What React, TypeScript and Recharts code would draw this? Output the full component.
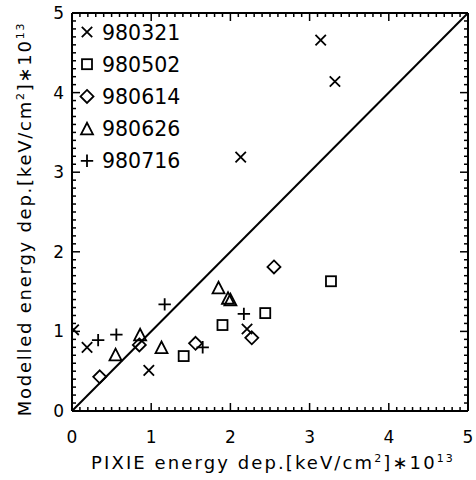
import React from 'react';
import { ScatterChart, Scatter, XAxis, YAxis, ReferenceLine, Legend } from 'recharts';

const FONT = '"DejaVu Sans", Verdana, sans-serif';

const AXIS_DOMAIN: [number, number] = [0, 5];
const ALL_TICKS = Array.from({ length: 51 }, (_, i) => i / 10);

const SERIES_NAMES = ['980321', '980502', '980614', '980626', '980716'];
const SERIES_SYMBOLS = ['cross', 'square', 'diamond', 'triangle', 'plus'];

const DATA_980321: [number, number][] = [
  [0.02, 1.02], [0.19, 0.8], [0.97, 0.51], [2.21, 1.03], [2.13, 3.19], [3.14, 4.66], [3.32, 4.14],
];
const DATA_980502: [number, number][] = [
  [1.41, 0.69], [1.9, 1.08], [2.44, 1.23], [3.27, 1.63],
];
const DATA_980614: [number, number][] = [
  [0.35, 0.43], [0.85, 0.83], [1.56, 0.85], [2.27, 0.92], [2.55, 1.81],
];
const DATA_980626: [number, number][] = [
  [0.55, 0.71], [0.86, 0.96], [1.13, 0.8], [1.85, 1.55], [1.97, 1.42], [2.0, 1.4],
];
const DATA_980716: [number, number][] = [
  [0.33, 0.89], [0.56, 0.96], [1.17, 1.34], [1.65, 0.8], [2.17, 1.22],
];
const SERIES_DATA = [DATA_980321, DATA_980502, DATA_980614, DATA_980626, DATA_980716];

const DIAGONAL = [{ x: 0, y: 0 }, { x: 5, y: 5 }];

const SW = 1.8;

function Marker({ kind, cx, cy }: { kind: string; cx: number; cy: number }) {
  const common = { stroke: '#000', strokeWidth: SW, fill: 'none' };
  if (cx == null || cy == null) return null;
  switch (kind) {
    case 'cross': {
      const h = 5.2;
      return <path d={`M${cx - h},${cy - h}L${cx + h},${cy + h}M${cx - h},${cy + h}L${cx + h},${cy - h}`} {...common} />;
    }
    case 'square': {
      const s = 5;
      return <rect x={cx - s} y={cy - s} width={2 * s} height={2 * s} {...common} />;
    }
    case 'diamond': {
      const h = 6.5;
      return <path d={`M${cx},${cy - h}L${cx + h},${cy}L${cx},${cy + h}L${cx - h},${cy}Z`} {...common} />;
    }
    case 'triangle': {
      const w = 6, h = 5.8;
      return <path d={`M${cx - w},${cy + h}L${cx},${cy - h}L${cx + w},${cy + h}Z`} {...common} />;
    }
    default: {
      const h = 6.2;
      return <path d={`M${cx - h},${cy}L${cx + h},${cy}M${cx},${cy - h}L${cx},${cy + h}`} {...common} />;
    }
  }
}

function LegendBox() {
  return (
    <svg width={150} height={170} style={{ display: 'block' }}>
      {SERIES_NAMES.map((name, i) => {
        const cy = 18 + 32.2 * i;
        return (
          <g key={name}>
            <Marker kind={SERIES_SYMBOLS[i]} cx={11} cy={cy} />
            <text x={26} y={cy + 7.6} fontFamily={FONT} fontSize={20.5} fill="#000">{name}</text>
          </g>
        );
      })}
    </svg>
  );
}

const TITLE_SIZE = 18;

function XTitle(props: any) {
  const vb = props.viewBox || {};
  const x0 = vb.x ?? 72;
  const w = vb.width ?? 396;
  const y0 = vb.y ?? 411;
  const cx = x0 + w / 2 + 3;
  return (
    <text x={cx} y={y0 + 58} textAnchor="middle" fontFamily={FONT} fontSize={TITLE_SIZE} letterSpacing={2.1} fill="#000">
      PIXIE energy dep.[keV/cm<tspan dy={-7} fontSize={11}>2</tspan><tspan dy={7}>]∗10</tspan><tspan dy={-7} fontSize={11}>13</tspan>
    </text>
  );
}

function YTitle(props: any) {
  const vb = props.viewBox || {};
  const y0 = vb.y ?? 13;
  const h = vb.height ?? 398;
  const cy = y0 + h / 2 + 7;
  const bx = 31;
  return (
    <text x={bx} y={cy} transform={`rotate(-90 ${bx} ${cy})`} textAnchor="middle" fontFamily={FONT} fontSize={TITLE_SIZE} letterSpacing={1.75} fill="#000">
      Modelled energy dep.[keV/cm<tspan dy={-7} fontSize={11}>2</tspan><tspan dy={7}>]∗10</tspan><tspan dy={-7} fontSize={11}>13</tspan>
    </text>
  );
}

const TICK_W = 1.5;
const isMajor = (v: number) => Math.abs(v - Math.round(v)) < 1e-6;

// custom tick: x/y sit on the axis line (tickSize 0, tickMargin 0); draw inward tick + optional label
function makeTick(side: 'bottom' | 'top' | 'left' | 'right', showLabel: boolean) {
  return (props: any) => {
    const { x, y, payload } = props;
    const v = payload.value as number;
    const len = isMajor(v) ? 8 : 4;
    let x2 = x, y2 = y;
    if (side === 'bottom') y2 = y - len;
    if (side === 'top') y2 = y + len;
    if (side === 'left') x2 = x + len;
    if (side === 'right') x2 = x - len;
    return (
      <g>
        <line x1={x} y1={y} x2={x2} y2={y2} stroke="#000" strokeWidth={TICK_W} />
        {showLabel && isMajor(v) && side === 'bottom' && (
          <text x={x} y={y + 32} textAnchor="middle" fontFamily={FONT} fontSize={17} fill="#000">{Math.round(v)}</text>
        )}
        {showLabel && isMajor(v) && side === 'left' && (
          <text x={x - 8} y={y + 6} textAnchor="end" fontFamily={FONT} fontSize={17} fill="#000">{Math.round(v)}</text>
        )}
      </g>
    );
  };
}

const AX = { stroke: '#000', strokeWidth: 2 };
const THIN = 0.01;

export default function App() {
  const common = {
    type: 'number' as const, domain: AXIS_DOMAIN, interval: 0 as const, allowDataOverflow: true,
    tickSize: 0, tickMargin: 0, tickLine: false, ticks: ALL_TICKS, axisLine: AX,
  };
  return (
    <div style={{ position: 'absolute', left: 0, top: 0, width: 476, height: 480, background: '#fff' }}>
      <ScatterChart width={476} height={480} margin={{ top: 13, right: 8, bottom: 69, left: 72 }}>
        <XAxis xAxisId="x" dataKey="x" {...common} height={THIN} tick={makeTick('bottom', true)} label={<XTitle />} />
        <XAxis xAxisId="xt" orientation="top" dataKey="x" {...common} height={THIN} tick={makeTick('top', false)} />
        <YAxis yAxisId="y" dataKey="y" {...common} width={THIN} tick={makeTick('left', true)} label={<YTitle />} />
        <YAxis yAxisId="yr" orientation="right" dataKey="y" {...common} width={THIN} tick={makeTick('right', false)} />
        <ReferenceLine xAxisId="x" yAxisId="y" segment={DIAGONAL} stroke="#000" strokeWidth={2} ifOverflow="visible" />
        {SERIES_DATA.map((pts, i) => (
          <Scatter
            key={SERIES_NAMES[i]}
            name={SERIES_NAMES[i]}
            xAxisId="x"
            yAxisId="y"
            data={pts.map(([x, y]) => ({ x, y }))}
            isAnimationActive={false}
            shape={(p: any) => <Marker kind={SERIES_SYMBOLS[i]} cx={p.cx} cy={p.cy} />}
          />
        ))}
        <Legend layout="vertical" align="center" verticalAlign="middle"
          wrapperStyle={{ left: 76, top: 14, width: 150, height: 170 }}
          content={() => <LegendBox />} />
      </ScatterChart>
    </div>
  );
}
